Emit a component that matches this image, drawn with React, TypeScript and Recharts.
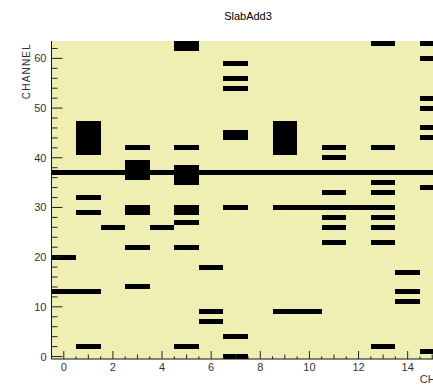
import { ScatterChart, Scatter, XAxis, YAxis, ReferenceArea, CartesianGrid } from "recharts";

// channels that fired, one list per chip
const chip0 = [13, 20, 37];
const chip1 = [2, 13, 29, 32, 37, 41, 42, 43, 44, 45, 46, 47];
const chip2 = [26, 37];
const chip3 = [14, 22, 29, 30, 36, 37, 38, 39, 42];
const chip4 = [26, 37];
const chip5 = [2, 22, 27, 29, 30, 35, 36, 37, 38, 42, 62, 63];
const chip6 = [7, 9, 18, 37];
const chip7 = [0, 4, 30, 37, 44, 45, 54, 56, 59];
const chip8 = [37];
const chip9 = [9, 30, 37, 41, 42, 43, 44, 45, 46, 47];
const chip10 = [9, 30, 37];
const chip11 = [23, 26, 28, 30, 33, 37, 40, 42];
const chip12 = [30, 37];
const chip13 = [2, 23, 26, 28, 30, 33, 35, 37, 42, 63];
const chip14 = [11, 13, 17, 37];
const chip15 = [1, 34, 37, 44, 46, 50, 52, 60, 63];

const chipChannels = [
  chip0, chip1, chip2, chip3, chip4, chip5, chip6, chip7,
  chip8, chip9, chip10, chip11, chip12, chip13, chip14, chip15,
];

const xTicks = [
  0, 0.5, 1, 1.5, 2, 2.5, 3, 3.5, 4, 4.5, 5, 5.5, 6, 6.5, 7, 7.5,
  8, 8.5, 9, 9.5, 10, 10.5, 11, 11.5, 12, 12.5, 13, 13.5, 14, 14.5, 15,
];
const yTicks = [
  0, 2, 4, 6, 8, 10, 12, 14, 16, 18, 20, 22, 24, 26, 28, 30, 32,
  34, 36, 38, 40, 42, 44, 46, 48, 50, 52, 54, 56, 58, 60, 62,
];

const cells = chipChannels.flatMap((chs, chip) => chs.map((ch) => ({ x: chip, y: ch })));

const FONT = "'Liberation Sans Narrow', 'Arial Narrow', 'Liberation Sans', Arial, sans-serif";
const BG = "#efefb4";

const XTick = (props: any) => {
  const { x, y, payload } = props;
  const v = payload.value;
  const len = v % 2 === 0 ? 8 : Number.isInteger(v) ? 4.5 : 2.7;
  return (
    <g>
      <line x1={x} x2={x} y1={y} y2={y - len} stroke="#222" />
      {v % 2 === 0 && (
        <text x={x} y={y + 12} textAnchor="middle" fontSize={11} fontFamily={FONT} fill="#333">
          {v}
        </text>
      )}
    </g>
  );
};

const YTick = (props: any) => {
  const { x, y, payload } = props;
  const v = payload.value;
  const major = v % 10 === 0;
  return (
    <g>
      <line x1={x} x2={x + (major ? 11 : 6)} y1={y} y2={y} stroke="#222" />
      {major && (
        <text x={x - 5} y={y + 4} textAnchor="end" fontSize={11} fontFamily={FONT} fill="#333">
          {v}
        </text>
      )}
    </g>
  );
};

export default function App() {
  return (
    <div style={{ position: "absolute", left: 0, top: 0, width: 433, height: 385, overflow: "hidden", background: "#fff" }}>
      <ScatterChart width={470} height={385} margin={{ top: 41, left: 0, right: 25.5, bottom: 0 }}>
        <CartesianGrid horizontal={false} vertical={false} fill={BG} fillOpacity={1} />
        <Scatter data={cells} shape={() => <g />} isAnimationActive={false} />
        {cells.map((c, i) => (
          <ReferenceArea
            key={i}
            x1={c.x - 0.5}
            x2={c.x + 0.5}
            y1={c.y - 0.5}
            y2={c.y + 0.5}
            fill="#000"
            fillOpacity={1}
            stroke="none"
            shape={(p: any) => (
              <rect x={p.x} y={p.y} width={p.width} height={p.height} fill="#000" shapeRendering="crispEdges" />
            )}
          />
        ))}
        <XAxis
          type="number"
          dataKey="x"
          domain={[-0.5, 15.5]}
          ticks={xTicks}
          interval={0}
          height={26}
          tickSize={0}
          tickMargin={0}
          tickLine={false}
          axisLine={{ stroke: "#111" }}
          tick={(p: any) => <XTick {...p} />}
          allowDataOverflow
        />
        <YAxis
          type="number"
          dataKey="y"
          domain={[-0.5, 63.5]}
          ticks={yTicks}
          interval={0}
          width={51.5}
          tickSize={0}
          tickMargin={0}
          tickLine={false}
          axisLine={{ stroke: "#111" }}
          tick={(p: any) => <YTick {...p} />}
          allowDataOverflow
        />
      </ScatterChart>
      <svg width={433} height={385} style={{ position: "absolute", left: 0, top: 0, pointerEvents: "none" }}>
        <text x={248} y={19.5} textAnchor="middle" fontSize={11} fontFamily="'Liberation Sans', Arial, sans-serif" fill="#000">
          SlabAdd3
        </text>
        <text
          transform="translate(29.5, 43) rotate(-90)"
          textAnchor="end"
          fontSize={10}
          letterSpacing={1.2}
          fontFamily="'Liberation Sans', Arial, sans-serif"
          fill="#333"
        >
          CHANNEL
        </text>
        <text x={446} y={383} textAnchor="end" fontSize={11} fontFamily={FONT} fill="#333">
          CHIP
        </text>
      </svg>
    </div>
  );
}
